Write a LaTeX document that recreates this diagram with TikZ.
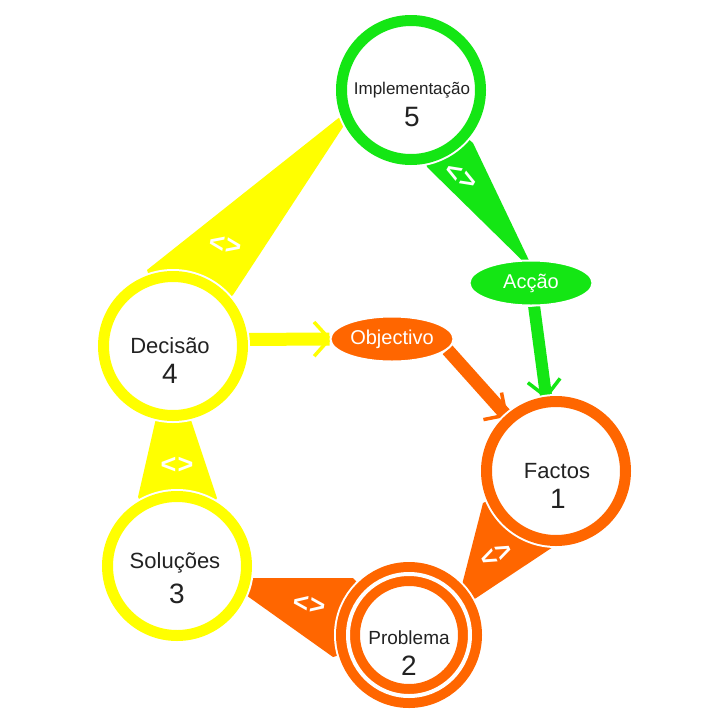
\documentclass[tikz,border=0pt]{standalone}
\usepackage{fontspec}
\setmainfont{Liberation Sans}
\usetikzlibrary{calc,shapes.geometric}
\definecolor{cgreen}{RGB}{20,230,20}
\definecolor{cyellow}{RGB}{255,255,0}
\definecolor{corange}{RGB}{255,102,0}
\definecolor{ctext}{RGB}{34,34,34}
\pgfdeclarelayer{bg}
\pgfsetlayers{bg,main}
\tikzset{
  ring/.style={circle, minimum size=139pt, inner sep=0pt, line width=11pt, fill=white,
    preaction={draw=white, line width=15pt}},
  ringtwo/.style={circle, minimum size=122pt, inner sep=0pt, line width=10pt, double=white,
    double distance=4pt, fill=white, preaction={draw=white, line width=28pt}},
  oval/.style={ellipse, minimum width=123pt, minimum height=45pt, inner sep=0pt,
    draw=white, line width=2pt, text=white, font=\fontsize{20}{20}\selectfont},
  word/.style={anchor=base, inner sep=0pt, text=ctext, font=\fontsize{22}{22}\selectfont},
  num/.style={anchor=base, inner sep=0pt, text=ctext, font=\fontsize{28}{28}\selectfont},
  lab/.style={inner sep=0pt, text=white, font=\fontsize{27}{27}\selectfont\bfseries},
  shaft/.style={line width=13pt},
  barb/.style={line width=3.5pt}
}
\begin{document}
\begin{tikzpicture}[x=1pt,y=-1pt]
\useasboundingbox (0,0) rectangle (726,726);
% circles
\node[ring, draw=cgreen] (n5) at (411,90) {};
\node[ring, draw=cyellow] (n4) at (173,346) {};
\node[ring, draw=cyellow] (n3) at (177,566) {};
\node[ringtwo, draw=corange] (n2) at (409,635) {};
\node[ring, draw=corange] (n1) at (556,471) {};
% ellipses
\node[oval, fill=corange] (obj) at (392,339) {Objectivo};
\node[oval, fill=cgreen] (acc) at (531,283) {Acção};
% texts
\node[word, font=\fontsize{17}{17}\selectfont] (t5) at (412,94) {Implementação};
\node[num] (d5) at (412,126) {5};
\node[word] (t4) at (170,353) {Decisão};
\node[num] (d4) at (170,383) {4};
\node[word] (t3) at (175,568) {Soluções};
\node[num] (d3) at (177,603) {3};
\node[word] (t1) at (557,478) {Factos};
\node[num] (d1) at (558,508) {1};
\node[word, font=\fontsize{19}{19}\selectfont] (t2) at (409,644) {Problema};
\node[num] (d2) at (409,675) {2};
\begin{pgfonlayer}{bg}
\fill[white] (0,0) rectangle (726,726);
% wedges
\fill[cgreen] (n5.center) -- ($(n5)+(16,77)$) -- ($(acc)+(4,-10)$) -- ($(n5)+(62,53)$) -- cycle;
\fill[cyellow] (n4.center) -- ($(n4)+(-26,-76)$) -- ($(n5)+(-51,11)$) -- ($(n4)+(60,-51)$) -- cycle;
\fill[cyellow] (n3.center) -- ($(n3)+(-39,-69)$) -- ($(n4)+(-3,11)$) -- ($(n3)+(40,-68)$) -- cycle;
\fill[corange] (n1.center) -- ($(n1)+(-73,32)$) -- ($(n2)+(46,-23)$) -- ($(n1)+(-3,76)$) -- cycle;
\fill[corange] (n2.center) -- ($(n2)+(-56,-57)$) -- ($(n3)+(45,12)$) -- ($(n2)+(-76,22)$) -- cycle;
% arrows
\draw[cyellow, shaft] (n4.5) -- (obj.west) coordinate[pos=1] (yE);
\draw[cyellow, barb] ($(yE)!23pt!48:(n4.5)$) -- (yE) -- ($(yE)!23pt!-48:(n4.5)$);
\draw[cgreen, shaft, line width=12pt] (acc) -- (n1) coordinate[pos=1] (gE);
\draw[cgreen, barb] ($(gE)!23pt!45:(acc)$) -- (gE) -- ($(gE)!23pt!-45:(acc)$);
\draw[corange, shaft] (obj.-11) -- (n1) coordinate[pos=1] (oE);
\draw[corange, barb] ($(oE)!23pt!45:(obj)$) -- (oE) -- ($(oE)!23pt!-45:(obj)$);
\end{pgfonlayer}
% wedge labels
\node[lab, rotate=-30] (l1) at (461,177) {<\kern1pt>};
\node[lab, rotate=-10] (l2) at (225,245) {<\kern1pt>};
\node[lab] (l3) at (177,465) {<\kern1pt>};
\node[lab, rotate=25] (l4) at (497,555) {<\kern1pt>};
\node[lab, rotate=-8] (l5) at (309,605) {<\kern1pt>};
\end{tikzpicture}
\end{document}
